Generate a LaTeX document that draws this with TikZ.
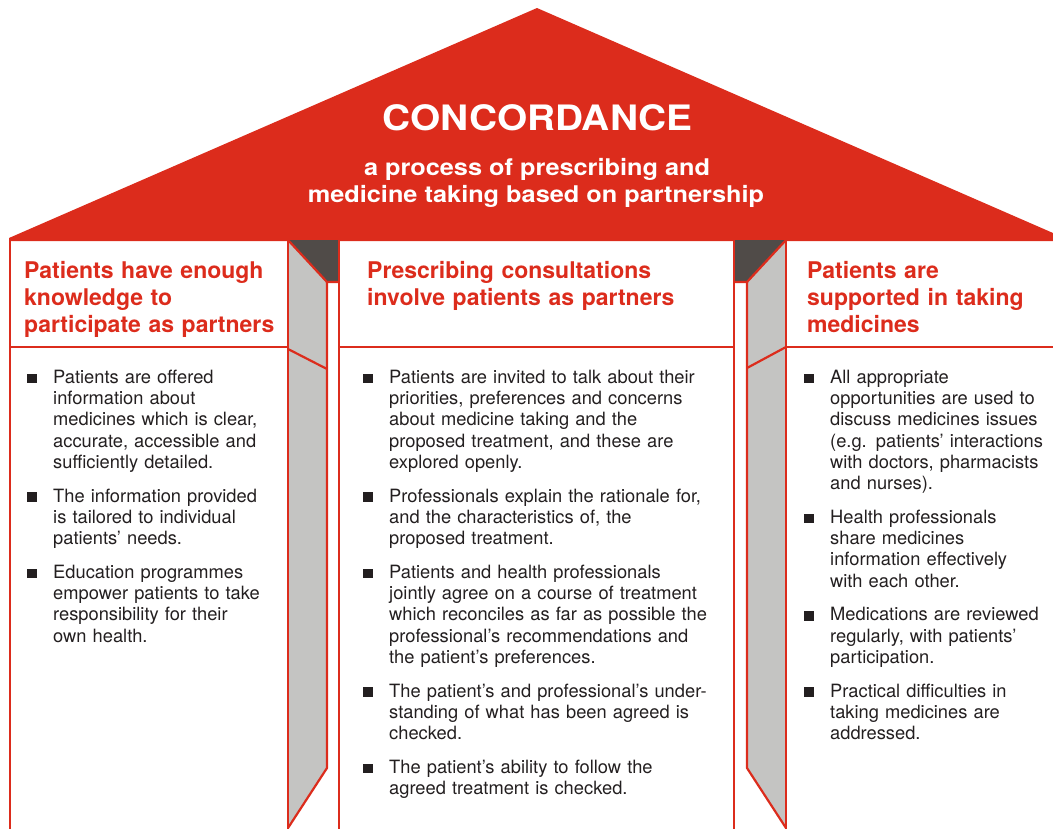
\documentclass[tikz,border=0pt]{standalone}
\usepackage{fontspec}
\setmainfont{TeX Gyre Heros}
\usepackage{graphicx}
\definecolor{cred}{RGB}{220,44,28}
\definecolor{cgray}{RGB}{196,196,194}
\definecolor{cdark}{RGB}{80,75,72}
\definecolor{cblack}{RGB}{35,31,32}
\newcommand\sqbul{\llap{\rule[0.2pt]{9.5pt}{9.5pt}\hspace{16.5pt}}}
\newcommand\fitem{\noindent\sqbul\rule{0pt}{15pt}}
\newcommand\bitem{\par\vspace{12.3pt}\noindent\sqbul}
\begin{document}
\begin{tikzpicture}[x=1pt,y=-1pt,
  redline/.style={draw=cred,line width=2.2pt,line join=miter},
  roofttl/.style={text=white,inner sep=0,anchor=base,font=\fontsize{35}{40}\selectfont\bfseries},
  roofsub/.style={text=white,inner sep=0,anchor=base,font=\fontsize{23}{28}\selectfont\bfseries},
  hdr/.style={text=cred,inner sep=0,anchor=north west,align=left,text width=400pt,font=\fontsize{23}{27}\selectfont\bfseries},
  body/.style={text=cblack,inner sep=0,anchor=north west,align=left,text width=400pt,font=\fontsize{18.3}{21.3}\selectfont}]
\useasboundingbox (0,0) rectangle (1053,828);
% roof
\fill[cred] (9,241) -- (9,238) -- (537,8) -- (1053,233) -- (1053,241) -- cycle;
% pillar fills
\fill[cgray] (288,240) -- (327,282) -- (327,768) -- (288,828) -- cycle;
\fill[cdark] (288,240) -- (339,240) -- (339,282) -- (327,282) -- cycle;
\fill[cgray] (786,240) -- (747,282) -- (747,768) -- (786,828) -- cycle;
\fill[cdark] (734,240) -- (786,240) -- (747,282) -- (734,282) -- cycle;
% lines left column
\draw[redline] (10,240) -- (10,830);
\draw[redline] (10,347) -- (288,347);
% left pillar
\draw[redline] (288,240) -- (288,830);
\draw[redline] (288,240) -- (327,282) -- (339,282);
\draw[redline] (327,282) -- (327,768) -- (288,828);
\draw[redline] (288,349) -- (327,369);
\draw[redline] (339,240) -- (339,830);
% middle column
\draw[redline] (339,347) -- (734,347);
% right pillar
\draw[redline] (734,240) -- (734,830);
\draw[redline] (786,240) -- (786,830);
\draw[redline] (786,240) -- (747,282) -- (734,282);
\draw[redline] (747,282) -- (747,768) -- (786,828);
\draw[redline] (786,347) -- (747,368);
\draw[redline] (786,347) -- (1055,347);
% roof text
\node[roofttl] (ttl) at (537.5,130) {\scalebox{1.11}[1]{CONCORDANCE}};
\node[roofsub] (sub1) at (537,175) {\scalebox{1.1}[1]{a process of prescribing and}};
\node[roofsub] (sub2) at (536,202) {\scalebox{1.1}[1]{medicine taking based on partnership}};
% headers
\node[hdr] (h1) at (24,259) {\rule{0pt}{19pt}Patients have enough\\knowledge to\\participate as partners};
\node[hdr] (h2) at (367,259) {\rule{0pt}{19pt}Prescribing consultations\\involve patients as partners};
\node[hdr] (h3) at (807,259) {\rule{0pt}{19pt}Patients are\\supported in taking\\medicines};
% bodies
\node[body] (b1) at (53,368) {\fitem Patients are offered\\information about\\medicines which is clear,\\accurate, accessible and\\sufficiently detailed.
\bitem The information provided\\is tailored to individual\\patients’ needs.
\bitem Education programmes\\empower patients to take\\responsibility for their\\own health.};
\node[body] (b2) at (389,368) {\fitem Patients are invited to talk about their\\priorities, preferences and concerns\\about medicine taking and the\\proposed treatment, and these are\\explored openly.
\bitem Professionals explain the rationale for,\\and the characteristics of, the\\proposed treatment.
\bitem Patients and health professionals\\jointly agree on a course of treatment\\which reconciles as far as possible the\\professional’s recommendations and\\the patient’s preferences.
\bitem The patient’s and professional’s under-\\standing of what has been agreed is\\checked.
\bitem The patient’s ability to follow the\\agreed treatment is checked.};
\node[body] (b3) at (830,368) {\fitem All appropriate\\opportunities are used to\\discuss medicines issues\\(e.g. patients’ interactions\\with doctors, pharmacists\\and nurses).
\bitem Health professionals\\share medicines\\information effectively\\with each other.
\bitem Medications are reviewed\\regularly, with patients’\\participation.
\bitem Practical difficulties in\\taking medicines are\\addressed.};
\end{tikzpicture}
\end{document}
